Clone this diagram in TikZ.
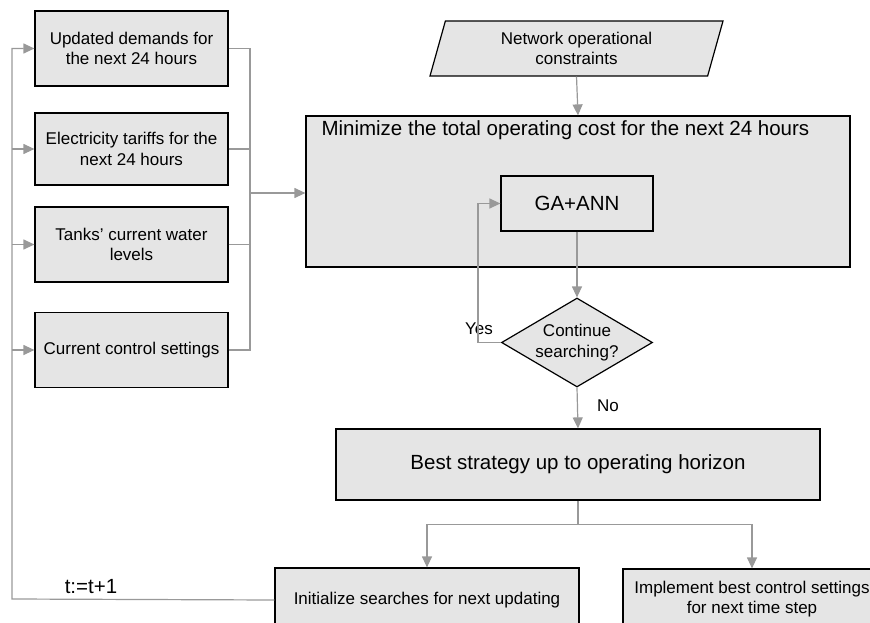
\documentclass[tikz,border=0pt]{standalone}
\usepackage{fontspec}
\setmainfont{Liberation Sans}
\usetikzlibrary{positioning, arrows.meta, shapes.geometric}

\begin{document}
\begin{tikzpicture}[x=1pt, y=-1pt]

	\tikzstyle{box}=[draw, fill=black!10, line width=1.2pt, align=center, inner sep=0pt, font=\fontsize{17}{20.5}\selectfont]
	\tikzstyle{bigtext}=[font=\fontsize{20.5}{24}\selectfont]
	\tikzstyle{tag}=[font=\fontsize{17}{20.5}\selectfont]

	\tikzstyle{line}=[draw=black!40, line width=1.2pt]
	\tikzstyle{flow}=[line, -{Triangle[length=11pt, width=10pt]}]

	\useasboundingbox (0,0) rectangle (870,623);
	\clip (0,0) rectangle (870,623);

	% inputs
	\node[box, minimum width=193pt, minimum height=75pt](demand) at (131.5,48.5) {Updated demands for\\the next 24 hours};
	\node[box, minimum width=193pt, minimum height=72pt](tariff) at (131.5,149) {Electricity tariffs for the\\next 24 hours};
	\node[box, minimum width=193pt, minimum height=75pt](level) at (131.5,244.5) {Tanks' current water\\levels};
	\node[box, minimum width=193pt, minimum height=75pt](control) at (131.5,350) {Current control settings};

	% optimisation
	\node[box, trapezium, trapezium left angle=65, trapezium right angle=115, trapezium stretches body, minimum width=293pt, minimum height=55pt](net) at (576.5,48.5) {Network operational\\constraints};
	\node[box, minimum width=544pt, minimum height=151pt](main) at (578,191.5) {};
	\node[bigtext, anchor=west](maintitle) at (318,130) {Minimize the total operating cost for the next 24 hours};
	\node[box, bigtext, minimum width=152pt, minimum height=55pt](ga) at (577,203.5) {GA+ANN};
	\node[box, diamond, aspect=1.7, minimum width=151pt, minimum height=89pt](cont) at (577,342.5) {Continue\\searching?};

	% results
	\node[box, bigtext, minimum width=484pt, minimum height=71pt](best) at (578,464.5) {Best strategy up to operating horizon};
	\node[box, minimum width=304pt, minimum height=64pt](init) at (427,600) {Initialize searches for next updating};
	\node[box, minimum width=258pt, minimum height=60pt](impl) at (752,599) {Implement best control settings\\for next time step};

	\node[tag](yes) at (479,329) {Yes};
	\node[tag](no) at (608,406) {No};
	\node[bigtext](step) at (91,587) {t:=t+1};

	\coordinate (merge) at (250,193);
	\coordinate (back) at (12,599);
	\coordinate (loop) at (478,0);
	\coordinate[below=24pt of best.south] (split);

	\foreach \n in {demand, tariff, level, control}
		\draw[line] (\n.east) -| (merge);
	\draw[flow] (merge) -- (merge -| main.west);

	\draw[flow] (net.south) -- (main.north);
	\draw[flow] (ga.south) -- (cont.north);
	\draw[flow] (cont.west) -| (loop |- ga.west) -- (ga.west);
	\draw[flow] (cont.south) -- (best.north);

	\draw[line] (best.south) -- (split);
	\draw[flow] (split) -| (init.north);
	\draw[flow] (split) -| (impl.north);

	% feedback
	\draw[flow] (init.west) -- (back) |- (demand.west);
	\foreach \n in {tariff, level, control}
		\draw[flow] (back |- \n.west) -- (\n.west);

\end{tikzpicture}
\end{document}
